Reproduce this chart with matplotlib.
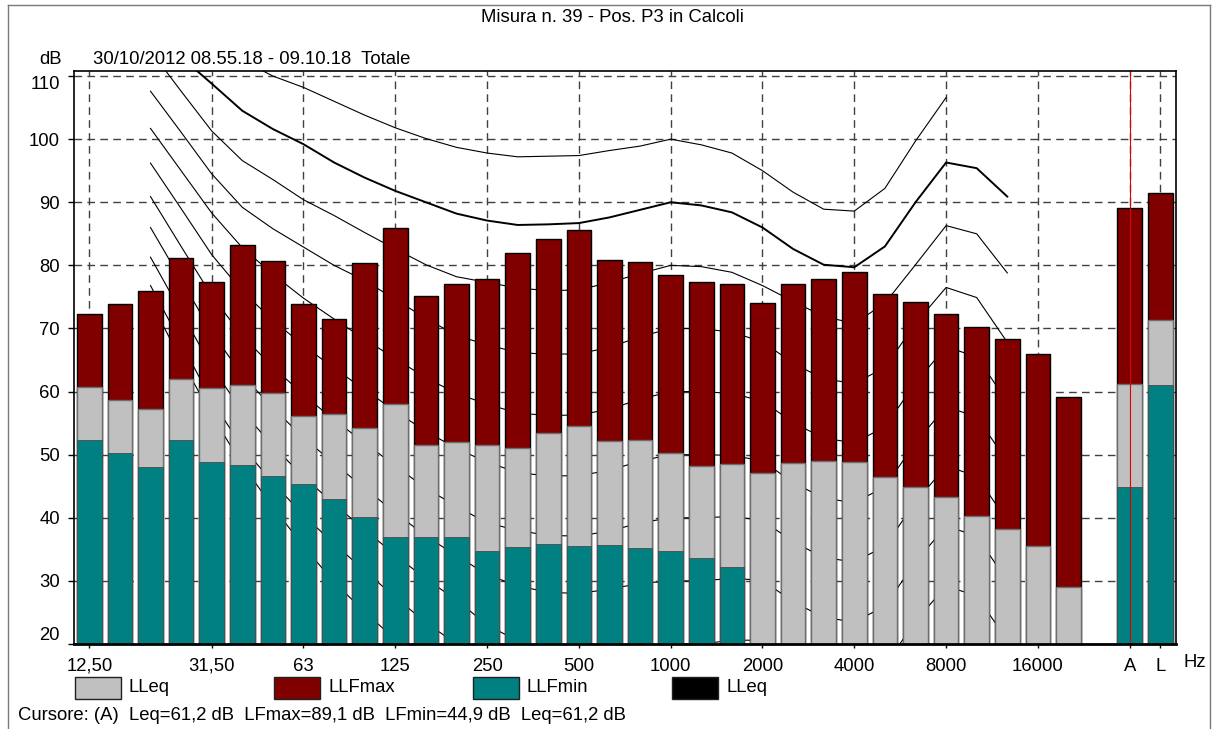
import numpy as np
import matplotlib.pyplot as plt
from matplotlib.patches import Rectangle
from matplotlib.lines import Line2D
import matplotlib.transforms as mtransforms

plt.rcParams['font.family'] = ['Liberation Sans', 'DejaVu Sans']

W, H = 1216, 729

# third-octave bands 12.5 Hz .. 20 kHz
bands = ["12,5", "16", "20", "25", "31,5", "40", "50", "63", "80", "100", "125",
         "160", "200", "250", "315", "400", "500", "630", "800", "1000", "1250",
         "1600", "2000", "2500", "3150", "4000", "5000", "6300", "8000", "10000",
         "12500", "16000", "20000"]

# spectrum values (dB)
llfmax = [72.3, 73.8, 75.9, 81.2, 77.4, 83.2, 80.7, 73.8, 71.5, 80.4, 86.0,
          75.2, 77.1, 77.8, 82.0, 84.2, 85.6, 80.8, 80.6, 78.5, 77.4,
          77.1, 74.1, 77.1, 77.9, 78.9, 75.4, 74.2, 72.3, 70.2, 68.4, 65.9, 59.2]
lleq = [60.7, 58.6, 57.2, 62.0, 60.5, 61.0, 59.7, 56.1, 56.4, 54.2, 58.0,
        51.6, 52.0, 51.6, 51.0, 53.4, 54.6, 52.2, 52.4, 50.3, 48.2,
        48.5, 47.1, 48.7, 49.0, 48.8, 46.4, 44.8, 43.3, 40.3, 38.3, 35.6, 29.0]
llfmin = [52.3, 50.2, 48.1, 52.4, 48.9, 48.3, 46.6, 45.4, 42.9, 40.2, 37.0,
          36.9, 36.9, 34.7, 35.3, 35.8, 35.5, 35.7, 35.2, 34.7, 33.6,
          32.2, np.nan, np.nan, np.nan, np.nan, np.nan, np.nan, np.nan, np.nan,
          np.nan, np.nan, np.nan]

# total values: A-weighted and linear
tot_labels = ["A", "L"]
tot_max = [89.1, 91.4]
tot_eq = [61.2, 71.4]
tot_min = [44.9, 61.0]

# equal loudness contours, bands 20 Hz .. 12.5 kHz
phon_100 = [121.0, 118.0, 115.0, 112.5, 110.0, 108.2, 106.0, 103.8, 101.8, 100.1,
            98.7, 97.8, 97.2, 97.3, 97.4, 98.2, 98.9, 100.0, 99.1, 97.8,
            95.0, 91.6, 88.9, 88.6, 92.2, 99.7, 106.6, np.nan, np.nan]
phon_90 = [117.0, 113.0, 108.8, 104.5, 101.6, 99.2, 96.3, 93.9, 91.8, 90.0,
           88.2, 87.1, 86.4, 86.5, 86.7, 87.6, 88.8, 90.0, 89.5, 88.4,
           86.0, 82.6, 80.1, 79.7, 83.0, 90.0, 96.3, 95.4, 90.9]
phon_80 = [114.0, 107.6, 101.3, 96.6, 93.6, 90.4, 87.9, 85.2, 82.6, 80.1,
           78.2, 77.3, 76.4, 76.0, 76.1, 77.3, 78.7, 80.0, 79.8, 78.9,
           76.8, 74.3, 71.9, 70.8, 74.0, 80.1, 86.3, 85.0, 78.8]
phon_70 = [107.6, 101.1, 94.5, 89.2, 85.8, 82.9, 80.0, 77.6, 74.6, 71.6,
           68.9, 67.4, 66.2, 65.9, 66.0, 67.0, 68.7, 70.0, 70.0, 69.4,
           67.9, 64.5, 62.0, 61.3, 63.8, 70.8, 76.5, 74.9, 67.8]
phon_60 = [101.7, 95.0, 88.3, 82.8, 78.6, 74.8, 71.5, 68.3, 65.2, 62.2,
           59.7, 58.0, 56.6, 56.2, 56.3, 57.2, 58.8, 60.0, 60.0, 59.7,
           58.5, 55.1, 52.6, 51.9, 54.4, 61.4, 67.1, 65.5, 58.4]
phon_50 = [96.2, 89.0, 81.7, 75.9, 71.3, 67.3, 63.7, 60.3, 56.9, 53.7,
           51.0, 48.8, 47.2, 46.6, 46.7, 47.5, 49.0, 50.0, 50.0, 49.9,
           49.0, 45.6, 43.1, 42.4, 44.9, 51.9, 57.6, 56.0, 48.9]
phon_40 = [90.9, 83.0, 75.2, 68.8, 63.9, 59.5, 55.5, 51.9, 48.2, 44.7,
           41.8, 39.2, 38.0, 37.2, 37.1, 37.9, 39.2, 40.0, 40.0, 40.2,
           39.6, 36.2, 33.7, 33.0, 35.5, 42.5, 48.2, 46.6, 39.5]
phon_30 = [86.0, 77.7, 69.4, 62.6, 57.4, 52.7, 48.6, 44.7, 40.8, 37.1,
           34.0, 31.0, 29.2, 28.2, 28.0, 28.7, 29.6, 30.0, 30.0, 30.4,
           30.1, 26.7, 24.2, 23.5, 26.0, 33.0, 38.7, 37.1, 30.0]
phon_20 = [81.3, 72.6, 63.9, 56.9, 51.4, 46.5, 42.2, 38.1, 34.1, 30.3,
           27.0, 23.0, 20.5, 19.2, 18.8, 19.2, 19.8, 20.0, 20.0, 20.6,
           20.6, 17.2, 14.8, 14.0, 16.6, 23.6, 29.2, 27.6, 20.6]
phon_10 = [76.8, 67.7, 58.6, 51.2, 45.6, 40.4, 35.9, 31.6, 27.4, 23.4,
           20.0, 15.5, 12.5, 10.5, 9.5, 9.5, 10.0, 10.0, 10.0, 11.1,
           11.2, 7.8, 5.3, 4.6, 7.1, 14.1, 19.8, 18.2, 11.1]
threshold = [74.3, 65.0, 56.3, 48.4, 41.7, 35.5, 29.8, 25.1, 20.7, 16.8,
             13.8, 11.2, 8.9, 7.2, 6.0, 5.0, 4.4, 4.2, 3.7, 2.6,
             1.0, -1.2, -3.6, -3.9, -1.1, 6.6, 15.3, 16.4, 11.6]

tick_pos = [0, 4, 7, 10, 13, 16, 19, 22, 25, 28, 31, 34, 35]
tick_labels = ["12,50", "31,50", "63", "125", "250", "500", "1000", "2000",
               "4000", "8000", "16000", "A", "L"]
y_ticks = [20, 30, 40, 50, 60, 70, 80, 90, 100, 110]

title = "Misura n. 39 - Pos. P3 in Calcoli"
subtitle = "30/10/2012 08.55.18 - 09.10.18  Totale"
cursor_text = "Cursore: (A)  Leq=61,2 dB  LFmax=89,1 dB  LFmin=44,9 dB  Leq=61,2 dB"

c_eq, c_max, c_min = "#C0C0C0", "#800000", "#008080"
fs = 13.3


def fx(x):
    return x / W


def fy(y):
    return 1 - y / H


fig = plt.figure(figsize=(W / 100, H / 100), dpi=100)
ax = fig.add_axes([fx(74), fy(644), fx(1175.6) - fx(74), fy(71) - fy(644)])

x_bands = np.arange(len(bands))
x_tot = np.array([34, 35])
x_curve = np.arange(2, 31)

# loudness contours behind the bars
curves = [phon_100, phon_90, phon_80, phon_70, phon_60, phon_50,
          phon_40, phon_30, phon_20, phon_10, threshold]
for c in curves:
    lw = 1.4 if c is phon_90 else 0.8
    ax.plot(x_curve, c, color="black", lw=lw, zorder=1)

bw = 0.8
ax.bar(x_bands, llfmax, width=bw, color=c_max, edgecolor="black", lw=1.0, zorder=2)
ax.bar(x_bands, lleq, width=bw, color=c_eq, edgecolor="#6e6e6e", lw=1.0, zorder=3)
ax.bar(x_bands, llfmin, width=bw, color=c_min, edgecolor="#4a4a4a", lw=0.6, zorder=4)
ax.bar(x_tot, tot_max, width=bw, color=c_max, edgecolor="black", lw=1.0, zorder=2)
ax.bar(x_tot, tot_eq, width=bw, color=c_eq, edgecolor="#6e6e6e", lw=1.0, zorder=3)
ax.bar(x_tot, tot_min, width=bw, color=c_min, edgecolor="#4a4a4a", lw=0.6, zorder=4)

# cursor on A
ax.axvline(34, color="#e00000", lw=0.8, zorder=6)

ax.set_xlim(-0.5, 35.5)
ax.set_ylim(20, 110.8)
ax.set_xticks(tick_pos)
ax.set_xticklabels(tick_labels)
ax.set_yticks(y_ticks)
ax.set_yticklabels([str(v) for v in y_ticks])
ax.grid(True, color="#404040", lw=1.0, linestyle=(0, (5.5, 3.8)), zorder=0)
ax.set_axisbelow(True)
ax.tick_params(axis="y", direction="out", length=4, width=1, labelsize=fs, pad=6)
ax.tick_params(axis="x", direction="out", length=3, width=1, labelsize=fs, pad=7)
yt = ax.yaxis.get_major_ticks()
yt[0].label1.set_verticalalignment("bottom")
yt[-1].label1.set_verticalalignment("top")

for s in ax.spines.values():
    s.set_color("black")
    s.set_linewidth(1.2)
    s.set_zorder(7)
ax.spines["bottom"].set_linewidth(2.0)

trans = mtransforms.blended_transform_factory(ax.transData, ax.transAxes)
ax.text(36.13, -0.0315, "Hz", transform=trans, ha="center", va="center", fontsize=fs)

# header texts
fig.text(fx(612), fy(18), title, ha="center", va="center", fontsize=fs)
fig.text(fx(51), fy(60), "dB", ha="center", va="center", fontsize=fs)
fig.text(fx(93), fy(60), subtitle, ha="left", va="center", fontsize=fs)

# legend row
legend_items = [("LLeq", c_eq), ("LLFmax", c_max), ("LLFmin", c_min), ("LLeq", "black")]
for i, (lab, col) in enumerate(legend_items):
    x0 = 75 + i * 199
    fig.add_artist(Rectangle((fx(x0), fy(699)), fx(46), fy(677) - fy(699),
                             facecolor=col, edgecolor="#202020", lw=1.0,
                             transform=fig.transFigure))
    fig.text(fx(x0 + 54), fy(688), lab, ha="left", va="center", fontsize=fs)

fig.text(fx(18), fy(716), cursor_text, ha="left", va="center", fontsize=fs)

# outer frame
for xs, ys in [((8, 8), (5, 729)), ((8, 1210), (5, 5)), ((1210, 1210), (5, 729))]:
    fig.add_artist(Line2D([fx(xs[0]), fx(xs[1])], [fy(ys[0]), fy(ys[1])],
                          color="#7a7a7a", lw=1.0, transform=fig.transFigure))

fig.savefig("out.png", dpi=100)
